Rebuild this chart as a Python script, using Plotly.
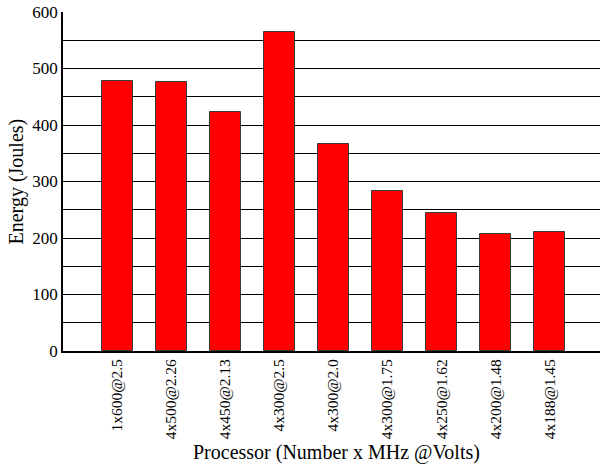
import plotly.graph_objects as go

# Energy used by each processor configuration
processors = ["1x600@2.5", "4x500@2.26", "4x450@2.13", "4x300@2.5", "4x300@2.0",
              "4x300@1.75", "4x250@1.62", "4x200@1.48", "4x188@1.45"]
energy_joules = [478, 476, 423, 565, 366, 283, 244, 207, 210]
y_ticks = [0, 100, 200, 300, 400, 500, 600]

serif = "Liberation Serif, Times New Roman, serif"

fig = go.Figure(
    go.Bar(
        x=list(range(len(processors))),
        y=energy_joules,
        width=0.573,
        marker=dict(color="#ff0000", line=dict(color="#3a3a3a", width=1)),
    )
)

fig.update_layout(
    width=600,
    height=465,
    margin=dict(l=63, r=0, t=12, b=114),
    paper_bgcolor="white",
    plot_bgcolor="white",
    showlegend=False,
    font=dict(family=serif, color="black", size=16),
    bargap=0,
    annotations=[
        dict(text="Processor (Number x MHz @Volts)", xref="paper", yref="paper",
             x=0.51, y=-0.3, xanchor="center", yanchor="middle",
             showarrow=False, font=dict(family=serif, size=20)),
        dict(text="Energy (Joules)", xref="paper", yref="paper",
             x=-0.0857, y=0.5, xanchor="center", yanchor="middle", textangle=-90,
             showarrow=False, font=dict(family=serif, size=20)),
    ],
)

fig.update_xaxes(
    range=[-1, 8.93],
    tickmode="array",
    tickvals=list(range(len(processors))),
    ticktext=processors,
    tickangle=-90,
    tickfont=dict(family=serif, size=15.5),
    ticks="",
    showgrid=False,
    zeroline=False,
    showline=True,
    linecolor="black",
    linewidth=2,
)

fig.update_yaxes(
    range=[0, 600],
    tickmode="array",
    tickvals=y_ticks,
    ticktext=[str(v) for v in y_ticks],
    tickfont=dict(family=serif, size=17),
    ticks="",
    showgrid=True,
    gridcolor="black",
    gridwidth=1,
    minor=dict(dtick=50, showgrid=True, gridcolor="black", gridwidth=1),
    zeroline=False,
    showline=True,
    linecolor="black",
    linewidth=1.5,
)

fig.write_html("out.html")
